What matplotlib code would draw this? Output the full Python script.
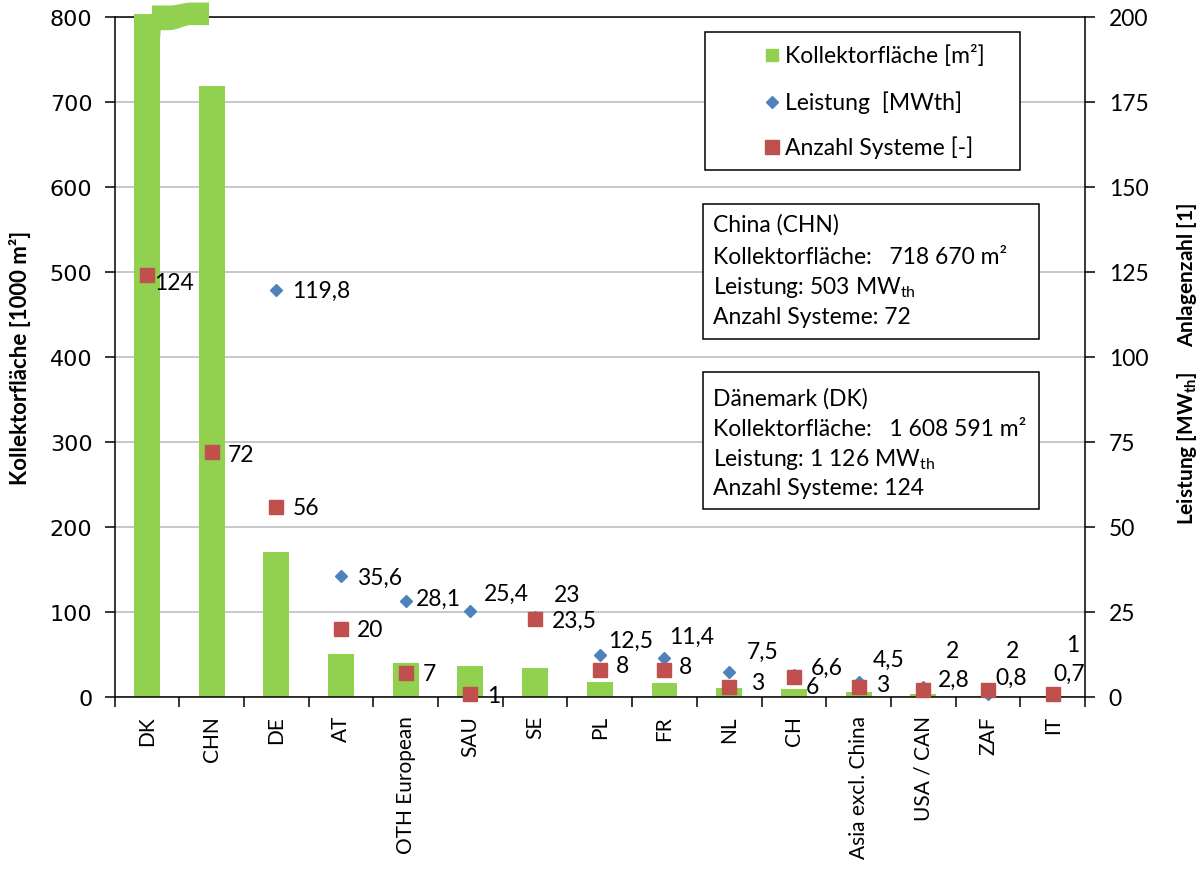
import numpy as np
import matplotlib.pyplot as plt
from matplotlib.lines import Line2D
from matplotlib.patches import Rectangle, Polygon

plt.rcParams['mathtext.fontset'] = 'custom'
plt.rcParams['mathtext.rm'] = 'Lato'
plt.rcParams['mathtext.bf'] = 'Lato:bold'

GREEN = '#92d050'
BLUE = '#4f81bd'
RED = '#c0504d'
FS = 16.5

countries = ["DK", "CHN", "DE", "AT", "OTH European", "SAU", "SE", "PL", "FR",
             "NL", "CH", "Asia excl. China", "USA / CAN", "ZAF", "IT"]
# collector area in 1000 m²
area = np.array([1608.591, 718.670, 171.1, 50.9, 40.1, 36.3, 33.6, 17.9, 16.3,
                 10.7, 9.4, 6.4, 4.0, 1.1, 1.0])
# thermal power in MWth
power = np.array([1126, 503, 119.8, 35.6, 28.1, 25.4, 23.5, 12.5, 11.4,
                  7.5, 6.6, 4.5, 2.8, 0.8, 0.7])
# number of systems
systems = np.array([124, 72, 56, 20, 7, 1, 23, 8, 8, 3, 6, 3, 2, 2, 1])

# label offsets in pixels (dx, dy) next to each marker
power_offsets = [None, None, (16, -1), (16, -1), (10, 3), (13, 17), (17, -3),
                 (8, 14), (5, 22), (18, 20), (17, 7), (14, 22), (15, 8),
                 (7, 17), (1, 21)]
systems_offsets = [(7, -7), (16, -2), (16, -1), (16, -1), (17, 0), (17, -2),
                   (19, 24), (16, 4), (14, 3), (22, 4), (12, -10), (17, 2),
                   (23, 40), (18, 40), (13, 49)]

legend_labels = ["Kollektorfläche [m²]", "Leistung  [MWth]", "Anzahl Systeme [-]"]
china_lines = ["China (CHN)", "Kollektorfläche:   718 670 m²",
               r"Leistung: 503 MW$_{\mathrm{th}}$", "Anzahl Systeme: 72"]
dk_lines = ["Dänemark (DK)", "Kollektorfläche:   1 608 591 m²",
            r"Leistung: 1 126 MW$_{\mathrm{th}}$", "Anzahl Systeme: 124"]

W, H = 1204, 870


def fx(px):
    return px / W


def fy(py):
    return 1 - py / H


def fmt(v):
    return f"{v:g}".replace('.', ',')


fig = plt.figure(figsize=(W / 100, H / 100), dpi=100)
ax = fig.add_axes([fx(114.6), fy(698), fx(1085) - fx(114.6), fy(18) - fy(698)])
x = np.arange(len(countries))

ax.bar(x, area, width=0.4, color=GREEN, zorder=2)
ax.set_xlim(-0.5, len(countries) - 0.5)
ax.set_ylim(0, 800)
ax.set_yticks(np.arange(0, 801, 100))
ax.yaxis.grid(True, color='#b8b8b8', lw=1.1)
ax.set_axisbelow(True)
ax.tick_params(axis='y', direction='out', length=7, width=1.1, pad=9,
               labelsize=16)
ax.set_xticks(x, labels=countries, rotation=90, fontfamily='Lato',
              fontsize=15)
ax.tick_params(axis='x', which='major', length=0, pad=13)
ax.set_xticks(np.arange(-0.5, len(countries)), minor=True)
ax.tick_params(axis='x', which='minor', direction='out', length=7, width=1.1)
for s in ['left', 'top', 'bottom']:
    ax.spines[s].set_linewidth(1.1)
ax.spines['right'].set_visible(False)

# broken-bar ribbon on top of the DK column
ymax = 800
t = np.linspace(0, 1, 60)
rx = 0.077 + t * (0.96 - 0.077)
u = np.clip((t - 0.3) / 0.4, 0, 1)
step = 0.5 - 0.5 * np.cos(np.pi * u)
top = ymax + 13.5 + 3.5 * step
bot = ymax - 15.5 + 6.0 * step
keep = rx >= 0.2
pts = [(-0.2, ymax - 30), (-0.2, ymax + 3.5), (0.077, ymax + 3.5)]
pts += list(zip(rx, top))
pts += list(zip(rx[keep][::-1], bot[keep][::-1]))
pts += [(0.2, ymax - 30)]
ax.add_patch(Polygon(pts, closed=True, color=GREEN, lw=0, zorder=3,
                     clip_on=False))

ax2 = ax.twinx()
ax2.set_ylim(0, 200)
yt2 = np.arange(0, 201, 25)
ax2.set_yticks(yt2, labels=[str(v) for v in yt2], fontfamily='Lato',
               fontsize=FS)
ax2.tick_params(axis='y', direction='out', length=7, width=1.1, pad=10)
for s in ['left', 'top', 'bottom']:
    ax2.spines[s].set_visible(False)
ax2.spines['right'].set_linewidth(1.1)

shown_power = np.where(power <= 200, power, np.nan)
ax2.plot(x, shown_power, 'D', ms=6.5, color=BLUE, clip_on=False, zorder=3)
ax2.plot(x, systems, 's', ms=10, color=RED, clip_on=False, zorder=4)

for i in range(len(countries)):
    if power_offsets[i] is not None and power[i] <= 200:
        ax2.annotate(fmt(power[i]), (x[i], power[i]), xytext=power_offsets[i],
                     textcoords='offset pixels', ha='left', va='center',
                     fontfamily='Lato', fontsize=FS, annotation_clip=False)
    ax2.annotate(fmt(systems[i]), (x[i], systems[i]), xytext=systems_offsets[i],
                 textcoords='offset pixels', ha='left', va='center',
                 fontfamily='Lato', fontsize=FS, annotation_clip=False)

fig.text(fx(20), fy(358), "Kollektorfläche [1000 m²]", rotation=90,
         ha='center', va='center', fontweight='bold', fontfamily='Lato',
         fontsize=16)
fig.text(fx(1187), fy(364),
         r"Leistung [MW$_{\mathbf{th}}$]     Anlagenzahl [1]", rotation=90,
         ha='center', va='center', fontweight='bold', fontfamily='Lato',
         fontsize=15)

# legend
fig.add_artist(Rectangle((fx(705), fy(171)), fx(1020) - fx(705),
                         fy(33) - fy(171), transform=fig.transFigure,
                         facecolor='white', edgecolor='black', lw=1.1))
handles = [('s', GREEN, 9), ('D', BLUE, 6.5), ('s', RED, 10)]
for (m, c, ms), lab, py in zip(handles, legend_labels, [56, 103, 148]):
    fig.add_artist(Line2D([fx(772)], [fy(py)], marker=m, color=c, ms=ms,
                          ls='none', transform=fig.transFigure))
    fig.text(fx(785), fy(py), lab, ha='left', va='center', fontfamily='Lato',
             fontsize=FS)

# info boxes
for lines, (y0, y1), ys in [(china_lines, (205, 340), [225, 258, 288, 318]),
                            (dk_lines, (373, 510), [399, 430, 460, 489])]:
    fig.add_artist(Rectangle((fx(703), fy(y1)), fx(1039) - fx(703),
                             fy(y0) - fy(y1), transform=fig.transFigure,
                             facecolor='white', edgecolor='black', lw=1.1))
    for line, py in zip(lines, ys):
        fig.text(fx(713), fy(py), line, ha='left', va='center',
                 fontfamily='Lato', fontsize=FS)

fig.savefig('out.png', dpi=100)
